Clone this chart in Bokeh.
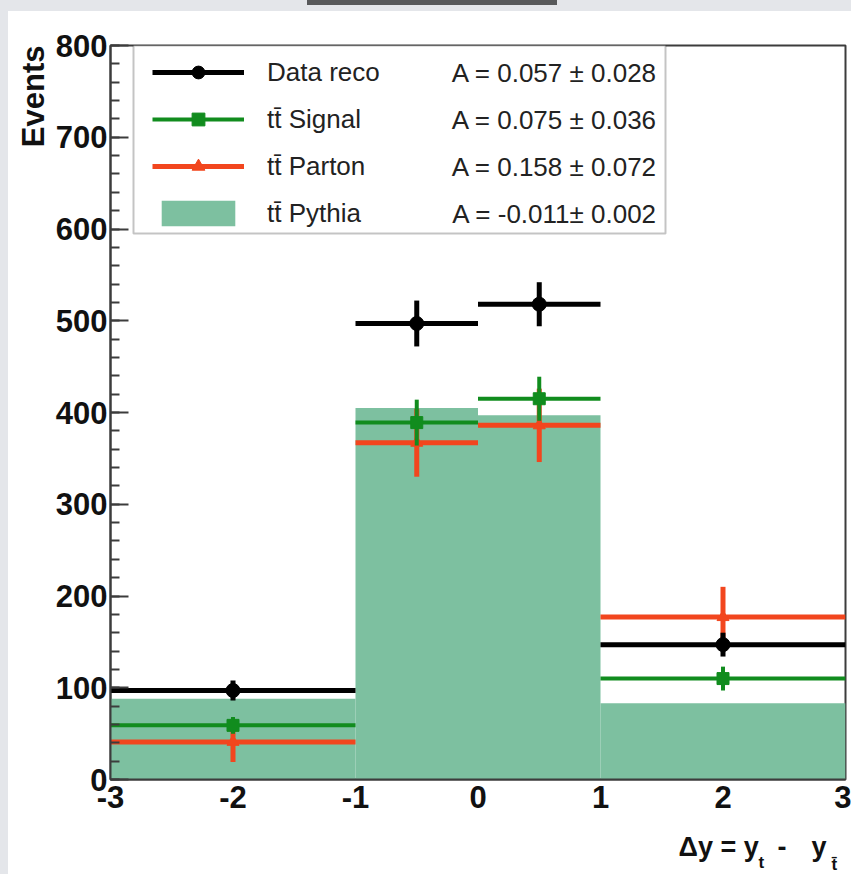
from bokeh.plotting import figure
from bokeh.models import (ColumnDataSource, Range1d, FixedTicker, SingleIntervalTicker,
                          Legend, LegendItem, Label, BoxAnnotation, Div)
from bokeh.layouts import column
from bokeh.embed import file_html
from bokeh.resources import INLINE

# Binning in delta-y (variable width bins)
bin_lo = [-3, -1, 0, 1]
bin_hi = [-1, 0, 1, 3]

# Event counts per bin and their uncertainties
data_reco = [97, 497, 518, 147]
data_err = [11, 25, 24, 13]
signal = [59, 389, 415, 110]
signal_err = [9, 25, 24, 13]
parton = [41, 367, 386, 177]
parton_err = [22, 37, 40, 33]
pythia = [88, 405, 397, 83]

series_names = ["Data reco", "tt\u0304 Signal", "tt\u0304 Parton", "tt\u0304 Pythia"]
asymmetries = ["A = 0.057 \u00b1 0.028", "A = 0.075 \u00b1 0.036",
               "A = 0.158 \u00b1 0.072", "A = -0.011\u00b1 0.002"]
x_ticks = [-3, -2, -1, 0, 1, 2, 3]

FONT = "Liberation Sans"
BLACK = "#000000"
GREEN = "#118c1e"
RED = "#f2461e"
FILL = "#7dc0a0"
FRAME = "#3c3c3c"
TEXT = "#111111"

mid = [(a + b) / 2 for a, b in zip(bin_lo, bin_hi)]

# Main plot panel
W, H = 843, 811
p = figure(width=W, height=H, x_range=Range1d(-3, 3), y_range=Range1d(0, 800),
           output_backend="svg", toolbar_location=None,
           min_border_left=102, min_border_right=6, min_border_top=34, min_border_bottom=43,
           background_fill_color="white", border_fill_color="white", margin=0)
p.grid.visible = False
p.outline_line_color = FRAME
p.outline_line_width = 2

# Pythia prediction as a filled histogram
pyth_src = ColumnDataSource(dict(lo=bin_lo, hi=bin_hi, top=pythia))
pyth_r = p.quad(left="lo", right="hi", bottom=0, top="top", source=pyth_src,
                fill_color=FILL, line_color=None)


def draw_series(vals, errs, color, marker, size, lw):
    src = ColumnDataSource(dict(
        lo=bin_lo, hi=bin_hi, mid=mid, y=vals,
        ylo=[v - e for v, e in zip(vals, errs)],
        yhi=[v + e for v, e in zip(vals, errs)],
    ))
    h = p.segment(x0="lo", x1="hi", y0="y", y1="y", source=src,
                  line_color=color, line_width=lw)
    p.segment(x0="mid", x1="mid", y0="ylo", y1="yhi", source=src,
              line_color=color, line_width=lw)
    m = p.scatter(x="mid", y="y", source=src, marker=marker, size=size,
                  fill_color=color, line_color=color)
    return [h, m]


parton_r = draw_series(parton, parton_err, RED, "triangle", 12, 5)
signal_r = draw_series(signal, signal_err, GREEN, "square", 12, 4)
data_r = draw_series(data_reco, data_err, BLACK, "circle", 14, 5)

# Axes
xa = p.xaxis[0]
xa.ticker = FixedTicker(ticks=x_ticks)
xa.major_label_overrides = {t: str(t) for t in x_ticks}
xa.major_tick_in = 0
xa.major_tick_out = 0
xa.minor_tick_in = 0
xa.minor_tick_out = 0
xa.axis_line_color = FRAME
xa.axis_line_width = 2
xa.major_label_standoff = 6
xa.major_label_text_font = FONT
xa.major_label_text_font_style = "bold"
xa.major_label_text_font_size = "31px"
xa.major_label_text_color = TEXT

ya = p.yaxis[0]
ya.ticker = SingleIntervalTicker(interval=100, num_minor_ticks=5)
ya.major_tick_in = 18
ya.major_tick_out = 0
ya.minor_tick_in = 9
ya.minor_tick_out = 0
ya.major_tick_line_color = FRAME
ya.major_tick_line_width = 2
ya.minor_tick_line_color = FRAME
ya.minor_tick_line_width = 2
ya.axis_line_color = FRAME
ya.axis_line_width = 2
ya.major_label_standoff = 3
ya.major_label_text_font = FONT
ya.major_label_text_font_style = "bold"
ya.major_label_text_font_size = "31px"
ya.major_label_text_color = TEXT

# Y-axis title, right-aligned at the top of the axis
p.add_layout(Label(x=25, y=34, x_units="canvas", y_units="canvas", text="Events",
                   angle=1.5708, text_align="right", text_baseline="middle",
                   text_font=FONT, text_font_style="bold", text_font_size="31px",
                   text_color=TEXT), "left")

# Legend box
p.add_layout(BoxAnnotation(left=125, right=657, top=34, bottom=222,
                           left_units="canvas", right_units="canvas",
                           top_units="canvas", bottom_units="canvas",
                           fill_color="white", fill_alpha=1.0,
                           line_color=FRAME, line_width=2))

legend = Legend(items=[
    LegendItem(label=series_names[0], renderers=data_r),
    LegendItem(label=series_names[1], renderers=signal_r),
    LegendItem(label=series_names[2], renderers=parton_r),
    LegendItem(label=series_names[3], renderers=[pyth_r]),
], location=(42, 550), glyph_width=92, glyph_height=32, label_height=32,
    spacing=15, padding=0, margin=0, label_standoff=23,
    label_text_font=FONT, label_text_font_size="26px", label_text_color="#222222",
    border_line_alpha=0, background_fill_alpha=0)
p.add_layout(legend)

row_y = [61, 108, 155, 202]
for txt, ry in zip(asymmetries, row_y):
    p.add_layout(Label(x=649, y=ry, x_units="canvas", y_units="canvas", text=txt,
                       text_align="right", text_baseline="middle",
                       text_font=FONT, text_font_size="26px", text_color="#222222"))

# Strip under the plot carrying the x-axis title "Δy = y_t - y_tbar"
t = figure(width=W, height=52, x_range=Range1d(0, 1), y_range=Range1d(0, 1),
           output_backend="svg", toolbar_location=None,
           x_axis_location=None, y_axis_location=None,
           min_border=0, min_border_left=0, min_border_right=0,
           min_border_top=0, min_border_bottom=0,
           background_fill_color="white", border_fill_color="white",
           outline_line_color=None, margin=0)
t.grid.visible = False
xt = [("\u0394y = y", 670, 24, "27px"), ("t", 750, 40, "17px"),
      ("-", 769, 24, "27px"), ("y", 803, 24, "27px"), ("t\u0304", 823, 42, "17px")]
for txt, cx, cy, fs in xt:
    t.add_layout(Label(x=cx, y=cy, x_units="canvas", y_units="canvas", text=txt,
                       text_align="left", text_baseline="alphabetic",
                       text_font=FONT, text_font_style="bold", text_font_size=fs,
                       text_color=TEXT))

inner = column(p, t, width=W, height=863, spacing=0, margin=(6, 0, 0, 8),
               styles={"background-color": "white"})
bar = Div(width=250, height=5, margin=(0, 0, 0, 307),
          styles={"background-color": "#58595b"})
layout = column(bar, inner, width=851, height=874, spacing=0,
                styles={"background-color": "#e4e6ea"})

open("out.html", "w").write(file_html(layout, INLINE))
